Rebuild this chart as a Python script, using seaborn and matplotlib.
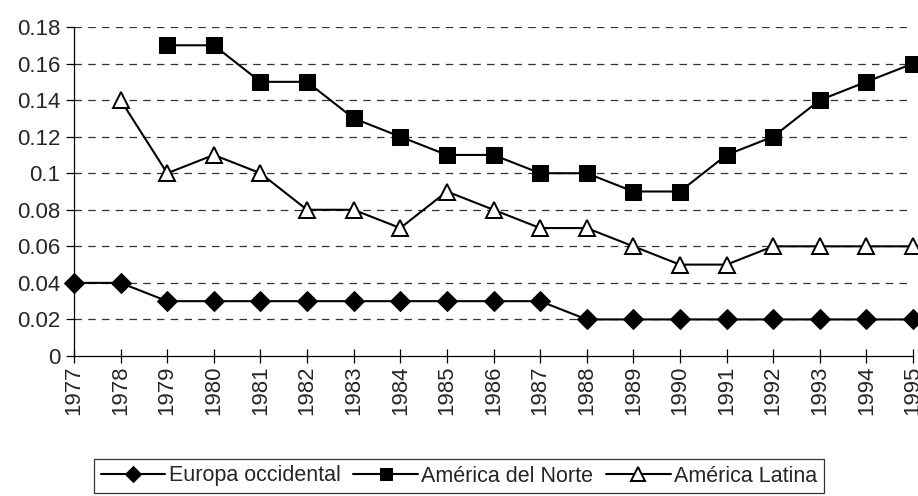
import numpy as np
import pandas as pd
import matplotlib
matplotlib.use("Agg")
import matplotlib.pyplot as plt
import seaborn as sns

years = list(range(1977, 1996))
europa = [0.04, 0.04, 0.03, 0.03, 0.03, 0.03, 0.03, 0.03, 0.03, 0.03, 0.03,
          0.02, 0.02, 0.02, 0.02, 0.02, 0.02, 0.02, 0.02]
norte = [np.nan, np.nan, 0.17, 0.17, 0.15, 0.15, 0.13, 0.12, 0.11, 0.11, 0.10,
         0.10, 0.09, 0.09, 0.11, 0.12, 0.14, 0.15, 0.16]
latina = [np.nan, 0.14, 0.10, 0.11, 0.10, 0.08, 0.08, 0.07, 0.09, 0.08, 0.07,
          0.07, 0.06, 0.05, 0.05, 0.06, 0.06, 0.06, 0.06]
series_names = ["Europa occidental", "América del Norte", "América Latina"]
y_ticks = [0, 0.02, 0.04, 0.06, 0.08, 0.10, 0.12, 0.14, 0.16, 0.18]
y_tick_labels = ["0", "0.02", "0.04", "0.06", "0.08", "0.1", "0.12", "0.14", "0.16", "0.18"]

sns.set_theme(style="white")
plt.rcParams["font.family"] = ["Liberation Sans", "DejaVu Sans"]

fig = plt.figure(figsize=(9.18, 4.96), dpi=100)
ax = fig.add_axes([74 / 918, 1 - 356 / 496, (913 - 74) / 918, (356 - 27) / 496])

styles = [
    dict(marker="D", markersize=10, markerfacecolor="black", markeredgecolor="black"),
    dict(marker="s", markersize=11, markerfacecolor="black", markeredgecolor="black"),
    dict(marker="^", markersize=12, markerfacecolor="white", markeredgecolor="black",
         markeredgewidth=1.4),
]
for name, vals, st in zip(series_names, [europa, norte, latina], styles):
    df = pd.DataFrame({"year": years, "value": vals}).dropna()
    sns.lineplot(data=df, x="year", y="value", ax=ax, color="black", linewidth=1.5,
                 label=name, clip_on=False, **st)

ax.set_xlim(1977, 1995)
ax.set_ylim(0, 0.18)
ax.set_yticks(y_ticks)
ax.set_yticklabels(y_tick_labels, fontsize=16)
ax.set_xticks(years)
ax.set_xticklabels([str(y) for y in years], rotation=90, fontsize=16)
ax.set_xlabel("")
ax.set_ylabel("")

for y in y_ticks[1:]:
    ax.axhline(y, color="#333333", linestyle=(0, (6, 5)), linewidth=0.9, zorder=0)

for s in ["top", "right"]:
    ax.spines[s].set_visible(False)
for s in ["left", "bottom"]:
    ax.spines[s].set_color("black")
    ax.spines[s].set_linewidth(0.9)
ax.tick_params(axis="y", direction="out", length=6, width=0.9, color="black", pad=4, left=True)
ax.tick_params(axis="x", direction="inout", length=10, width=0.9, color="black", pad=2, bottom=True)

ax.get_legend().remove()
handles, labels = ax.get_legend_handles_labels()
leg = fig.legend(handles, labels, loc="center", bbox_to_anchor=(459 / 918, 1 - 476 / 496),
                 ncol=3, fontsize=15.5, frameon=True, fancybox=False, edgecolor="black",
                 handlelength=3.0, handletextpad=0.15, columnspacing=0.6, borderpad=0.3,
                 markerscale=0.85)
leg.get_frame().set_linewidth(0.9)

fig.savefig("out.png", dpi=100)
